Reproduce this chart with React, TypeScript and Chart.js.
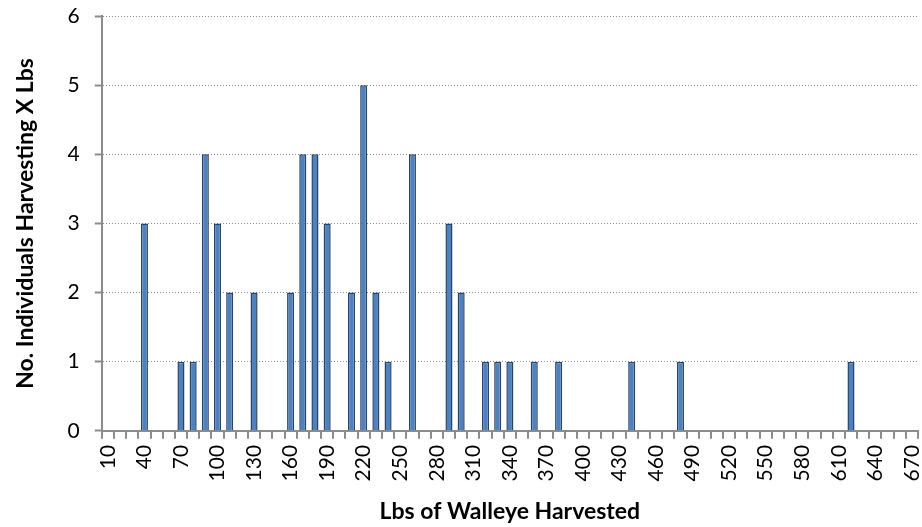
import React, { useEffect, useRef } from "react";
import { Chart, registerables } from "chart.js";

Chart.register(...registerables);

const categories: string[] = [];
for (let v = 10; v <= 670; v += 10) categories.push(String(v));

const barLbs = [40, 70, 80, 90, 100, 110, 130, 160, 170, 180, 190, 210, 220, 230, 240, 260, 290, 300, 320, 330, 340, 360, 380, 440, 480, 620];
const barCounts = [3, 1, 1, 4, 3, 2, 2, 2, 4, 4, 3, 2, 5, 2, 1, 4, 3, 2, 1, 1, 1, 1, 1, 1, 1, 1];

const values: number[] = categories.map((c) => {
  const i = barLbs.indexOf(Number(c));
  return i >= 0 ? barCounts[i] : 0;
});

const yTitle = "No. Individuals Harvesting X Lbs";
const xTitle = "Lbs of Walleye Harvested";

export default function App() {
  const ref = useRef<HTMLCanvasElement>(null);
  useEffect(() => {
    document.body.style.margin = "0";
    const ctx = ref.current!;
    const chart = new Chart(ctx, {
      type: "bar",
      data: {
        labels: categories,
        datasets: [
          {
            data: values,
            backgroundColor: "#4F81BD",
            borderColor: "#27456B",
            borderWidth: 1.5,
            barPercentage: 0.58,
            categoryPercentage: 1,
          },
        ],
      },
      options: {
        responsive: false,
        animation: false,
        layout: { padding: { top: 0, right: 4, left: 12, bottom: 2 } },
        plugins: { legend: { display: false }, tooltip: { enabled: false } },
        scales: {
          x: {
            afterFit: (s: any) => {
              s.paddingRight = 0;
              s.paddingLeft = 0;
            },
            grid: {
              display: true,
              drawOnChartArea: false,
              drawTicks: true,
              tickLength: 8,
              color: "#8C8C8C",
              lineWidth: 2,
              offset: true,
            },
            border: { display: true, color: "#8C8C8C", width: 2 },
            ticks: {
              autoSkip: false,
              maxRotation: 90,
              minRotation: 90,
              color: "#000",
              font: { family: "Lato", size: 21 },
              padding: 6,
              callback: (_v, i) => (i % 3 === 0 ? categories[i] : ""),
            },
            title: {
              display: true,
              text: xTitle,
              color: "#000",
              font: { family: "Lato", size: 23, weight: "bold" },
              padding: { top: 10, bottom: 0 },
            },
          },
          y: {
            min: 0,
            max: 6,
            afterFit: (s: any) => {
              s.paddingTop = 16;
            },
            ticks: {
              stepSize: 1,
              color: "#000",
              font: { family: "Lato", size: 21 },
              padding: 15,
            },
            grid: {
              color: "#8C8C8C",
              lineWidth: 1,
              drawTicks: true,
              tickLength: 7,
              tickBorderDash: [],
              tickColor: "#8C8C8C",
              tickWidth: 2,
            },
            border: { display: true, color: "#8C8C8C", width: 2, dash: [1, 2] },
            title: {
              display: true,
              text: yTitle,
              color: "#000",
              font: { family: "Lato", size: 23, weight: "bold" },
              padding: { top: 0, bottom: 13 },
            },
          },
        },
      },
    });
    return () => chart.destroy();
  }, []);
  return (
    <div style={{ width: 922, height: 527 }}>
      <canvas ref={ref} width={922} height={527} />
    </div>
  );
}
